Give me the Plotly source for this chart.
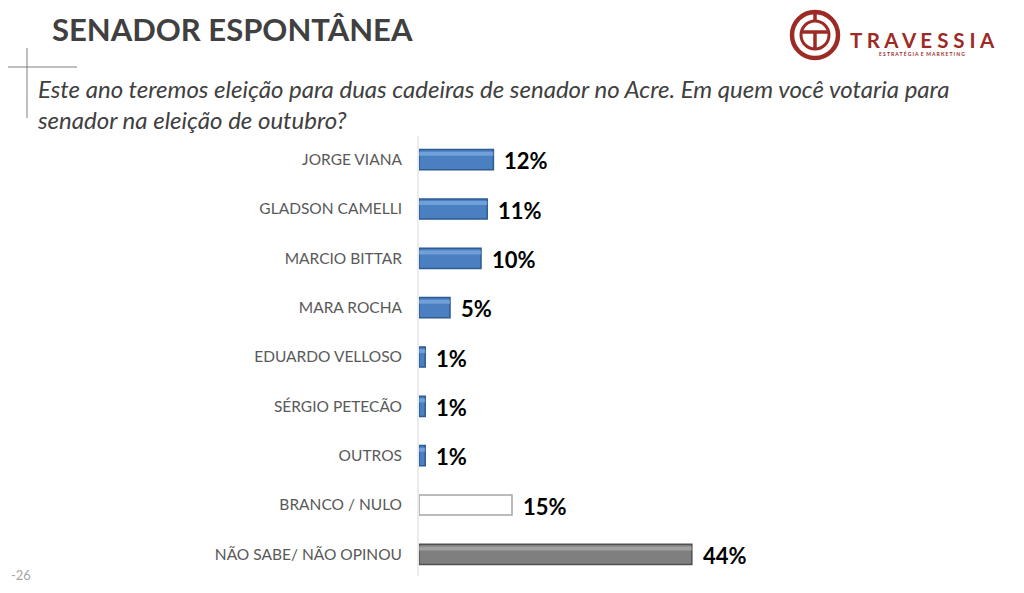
import plotly.graph_objects as go

categories = ["JORGE VIANA", "GLADSON CAMELLI", "MARCIO BITTAR", "MARA ROCHA",
              "EDUARDO VELLOSO", "SÉRGIO PETECÃO", "OUTROS", "BRANCO / NULO",
              "NÃO SABE/ NÃO OPINOU"]
values = [12, 11, 10, 5, 1, 1, 1, 15, 44]
value_labels = ["12%", "11%", "10%", "5%", "1%", "1%", "1%", "15%", "44%"]
bar_colors = ["#4a7fc1"] * 7 + ["#ffffff", "#7f7f7f"]
bar_borders = ["#2d5b92"] * 7 + ["#a6a6a6", "#505050"]
highlight_colors = ["rgba(140,180,230,0.6)"] * 7 + ["rgba(255,255,255,0)", "rgba(190,190,190,0.55)"]

W, H = 1024, 593
OFF = 8  # page body margin
def px(x):
    return (x - OFF) / W
def py(y):
    return 1 - (y - OFF) / H

fig = go.Figure()
fig.add_trace(go.Bar(
    x=values, y=categories, orientation="h", width=0.41,
    marker=dict(color=bar_colors, line=dict(color=bar_borders, width=1.5)),
    hoverinfo="skip", showlegend=False,
))
fig.add_trace(go.Bar(
    x=values, y=categories, orientation="h", width=0.08, offset=-0.16,
    marker=dict(color=highlight_colors, line=dict(width=0)),
    hoverinfo="skip", showlegend=False,
))

for c, v, t in zip(categories, values, value_labels):
    fig.add_annotation(x=v, y=c, xref="x", yref="y", text="<b>%s</b>" % t,
                       showarrow=False, xanchor="left", xshift=9, yshift=-1,
                       font=dict(family="Lato", size=22, color="#000000"))

fig.update_layout(
    width=W, height=H,
    margin=dict(l=0, r=0, t=0, b=0),
    barmode="overlay",
    paper_bgcolor="#ffffff", plot_bgcolor="rgba(0,0,0,0)",
    xaxis=dict(domain=[px(419), px(1000)], range=[0, 93.7], visible=False,
               showgrid=False, zeroline=False),
    yaxis=dict(domain=[py(579), py(135)], range=[8.5, -0.5], type="category",
               showgrid=False, zeroline=False, showline=False, ticks="",
               ticklabelstandoff=16,
               tickfont=dict(family="Lato", size=15.5, color="#595959")),
)

shapes = []
# axis line
shapes.append(dict(type="line", xref="paper", yref="paper", x0=px(418), x1=px(418),
                   y0=py(136), y1=py(576), line=dict(color="#d9d9d9", width=1)))
# decorative cross
shapes.append(dict(type="line", xref="paper", yref="paper", x0=px(8), x1=px(77),
                   y0=py(67), y1=py(67), line=dict(color="#7f7f7f", width=1)))
shapes.append(dict(type="line", xref="paper", yref="paper", x0=px(27), x1=px(27),
                   y0=py(48), y1=py(118), line=dict(color="#7f7f7f", width=1)))
# logo
red = "#9e2a25"
cx, cy, r = 815, 35, 23
shapes.append(dict(type="circle", xref="paper", yref="paper", x0=px(cx - r), x1=px(cx + r),
                   y0=py(cy + r), y1=py(cy - r), line=dict(color=red, width=4.5)))
shapes.append(dict(type="circle", xref="paper", yref="paper", x0=px(cx - 14), x1=px(cx + 14),
                   y0=py(cy + 14), y1=py(cy - 14), line=dict(color=red, width=3)))
shapes.append(dict(type="line", xref="paper", yref="paper", x0=px(cx - 14), x1=px(cx + 14),
                   y0=py(cy - 3), y1=py(cy - 3), line=dict(color=red, width=3.5)))
shapes.append(dict(type="line", xref="paper", yref="paper", x0=px(cx), x1=px(cx),
                   y0=py(cy - 3), y1=py(cy + 14), line=dict(color=red, width=3.5)))
shapes.append(dict(type="line", xref="paper", yref="paper", x0=px(cx), x1=px(cx),
                   y0=py(cy - r), y1=py(cy - 14), line=dict(color=red, width=3.5)))
fig.update_layout(shapes=shapes)

fig.add_annotation(xref="paper", yref="paper", x=px(50), y=py(29), xanchor="left",
                   yanchor="middle", showarrow=False,
                   text="<b>SENADOR ESPONTÂNEA</b>",
                   font=dict(family="Lato", size=31, color="#404040"))
fig.add_annotation(xref="paper", yref="paper", x=px(35), y=py(104), xanchor="left",
                   yanchor="middle", showarrow=False, align="left",
                   text="<i>Este ano teremos eleição para duas cadeiras de senador no Acre. Em quem você votaria para<br>senador na eleição de outubro?</i>",
                   font=dict(family="Lato", size=24, color="#404040"))
fig.add_annotation(xref="paper", yref="paper", x=px(848), y=py(40), xanchor="left",
                   yanchor="middle", showarrow=False, text="<b>T R A V E S S I A</b>",
                   font=dict(family="Lato", size=20.5, color=red))
fig.add_annotation(xref="paper", yref="paper", x=px(922), y=py(54), xanchor="center",
                   yanchor="middle", showarrow=False, text="<b>E S T R A T É G I A  E  M A R K E T I N G</b>",
                   font=dict(family="Lato", size=5, color=red))
fig.add_annotation(xref="paper", yref="paper", x=px(9), y=py(575), xanchor="left",
                   yanchor="middle", showarrow=False, text="-26",
                   font=dict(family="Lato", size=13, color="#a6a6a6"))

fig.write_html("out.html")
